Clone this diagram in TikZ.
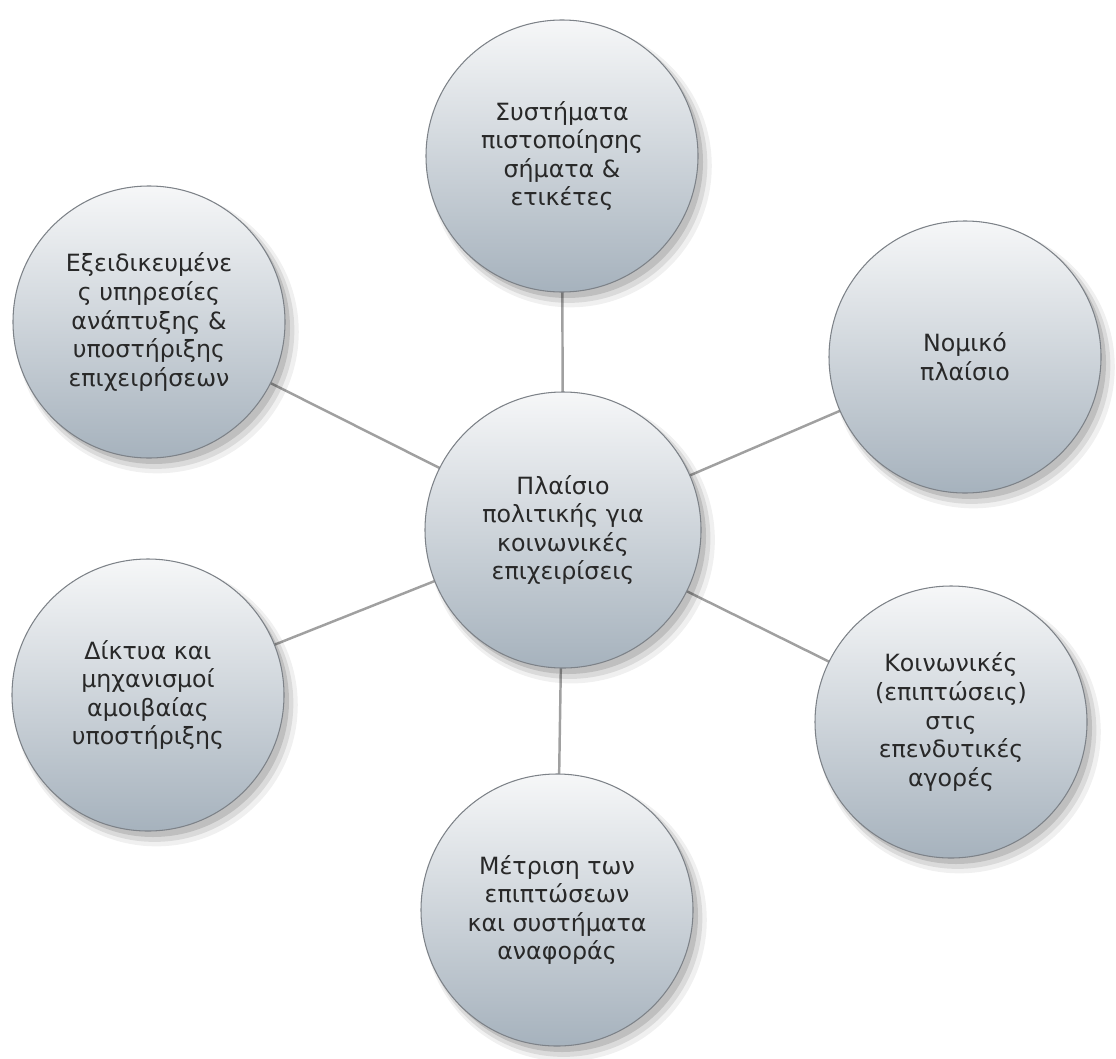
\documentclass[tikz,border=0pt]{standalone}
\usepackage{fontspec}
\setmainfont{DejaVu Sans}
\usetikzlibrary{shadows,backgrounds}
\definecolor{topc}{RGB}{246,247,248}
\definecolor{midc}{RGB}{226,230,234}
\definecolor{botc}{RGB}{166,178,189}
\definecolor{rimc}{RGB}{125,130,136}
\definecolor{linkc}{RGB}{160,160,160}
\definecolor{txtc}{RGB}{40,40,40}
\tikzset{
  bubble/.style={circle, minimum size=5.44cm, inner sep=0pt, align=center,
    draw=rimc, line width=0.6pt,
    top color=topc, middle color=midc, bottom color=botc,
    text=txtc, font=\fontsize{13.5}{16.3}\selectfont,
    execute at begin node={\rule{0pt}{17pt}},
    drop shadow={shadow xshift=0.16cm, shadow yshift=-0.19cm, shadow scale=1.04, opacity=0.06, fill=black},
    drop shadow={shadow xshift=0.13cm, shadow yshift=-0.16cm, shadow scale=1.02, opacity=0.09, fill=black},
    drop shadow={shadow xshift=0.10cm, shadow yshift=-0.12cm, shadow scale=1.00, opacity=0.12, fill=black}},
  hub/.style={bubble, minimum size=5.52cm},
  link/.style={draw=linkc, line width=1.4pt}
}
\begin{document}
\begin{tikzpicture}
\useasboundingbox (0,0) rectangle (22.32,-21.16);
\node[hub]    (d) at (11.26,-10.60) {Πλαίσιο\\πολιτικής για\\κοινωνικές\\επιχειρίσεις};
\node[bubble] (a) at (11.24,-3.12)  {Συστήματα\\πιστοποίησης\\σήματα \&\\ετικέτες};
\node[bubble] (b) at (2.98,-6.44)   {Εξειδικευμένε\\ς υπηρεσίες\\ανάπτυξης \&\\υποστήριξης\\επιχειρήσεων};
\node[bubble] (c) at (19.30,-7.14)  {Νομικό\\πλαίσιο};
\node[bubble] (e) at (2.96,-13.90)  {Δίκτυα και\\μηχανισμοί\\αμοιβαίας\\υποστήριξης};
\node[bubble] (f) at (19.02,-14.44) {Κοινωνικές\\(επιπτώσεις)\\στις\\επενδυτικές\\αγορές};
\node[bubble] (g) at (11.14,-18.20) {Μέτριση των\\επιπτώσεων\\και συστήματα\\αναφοράς};
\begin{scope}[on background layer]
  \draw[link] (d.center) -- (a.center);
  \draw[link] (d.center) -- (b.center);
  \draw[link] (d.center) -- (c.center);
  \draw[link] (d.center) -- (e.center);
  \draw[link] (d.center) -- (f.center);
  \draw[link] (d.center) -- (g.center);
\end{scope}
\end{tikzpicture}
\end{document}
